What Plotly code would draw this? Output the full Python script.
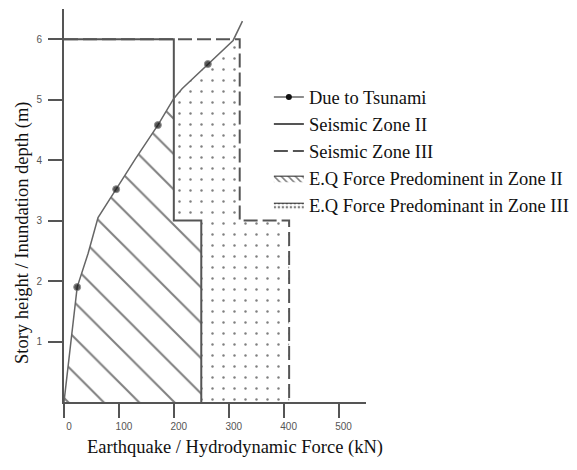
import numpy as np
import plotly.graph_objects as go

# ---- data ----
tsunami_force = [0, 12, 24, 44, 62, 95, 130, 171, 200, 215, 262, 308, 325]
tsunami_height = [0, 0.95, 1.9, 2.46, 3.05, 3.52, 4.02, 4.58, 5.02, 5.18, 5.59, 5.98, 6.3]
tsunami_marker_idx = [2, 5, 7, 10]

zone2_force = [0, 200, 200, 250, 250]
zone2_height = [6, 6, 3, 3, 0]

zone3_force = [0, 320, 320, 410, 410]
zone3_height = [6, 6, 3, 3, 0]

x_ticks = [0, 100, 200, 300, 400, 500]
y_ticks = [1, 2, 3, 4, 5, 6]

# ---- derived polygons ----
tf = np.array(tsunami_force, float)
th = np.array(tsunami_height, float)
x_step2 = zone2_force[1]            # upper Zone II step force
y_meet2 = float(np.interp(x_step2, tf, th))
top3 = zone3_height[0]
x_meet3 = float(np.interp(top3, th, tf))

# hatch region: between tsunami curve and Zone II line
mask = th <= y_meet2
hx = list(tf[mask]) + [zone2_force[2], zone2_force[3], zone2_force[4]]
hy = list(th[mask]) + [zone2_height[2], zone2_height[3], zone2_height[4]]

# dotted region: between Zone II (and curve) and Zone III line
mask2 = (th >= y_meet2) & (th <= top3)
dx = [zone2_force[4], zone2_force[3], zone2_force[2]] + list(tf[mask2]) + [x_meet3] + zone3_force[1:]
dy = [zone2_height[4], zone2_height[3], zone2_height[2]] + list(th[mask2]) + [top3] + zone3_height[1:]

msize = [7 if i in tsunami_marker_idx else 0 for i in range(len(tsunami_force))]

fig = go.Figure()

# filled regions (drawn first, behind the lines)
fig.add_trace(go.Scatter(
    x=hx, y=hy, mode="none", fill="toself", fillcolor="white", showlegend=False,
    fillpattern=dict(shape="\\", fgcolor="#000", bgcolor="white", size=25, solidity=0.08),
    hoverinfo="skip"))
fig.add_trace(go.Scatter(
    x=dx, y=dy, mode="none", fill="toself", fillcolor="white", showlegend=False,
    fillpattern=dict(shape=".", fgcolor="#000", bgcolor="white", size=11, solidity=0.04),
    hoverinfo="skip"))

fig.add_trace(go.Scatter(
    x=zone3_force, y=zone3_height, mode="lines", name="Seismic Zone III",
    line=dict(color="#555", width=2, dash="14px,5px"), legendrank=3))
fig.add_trace(go.Scatter(
    x=zone2_force, y=zone2_height, mode="lines", name="Seismic Zone II",
    line=dict(color="#555", width=2), legendrank=2))
fig.add_trace(go.Scatter(
    x=tsunami_force, y=tsunami_height, mode="lines+markers", name="Due to Tsunami",
    line=dict(color="#666", width=1.5),
    marker=dict(color="#111", size=msize), showlegend=False))

# legend entries
fig.add_trace(go.Scatter(
    x=[None], y=[None], mode="lines+markers", name="Due to Tsunami",
    line=dict(color="#666", width=1.5), marker=dict(color="#111", size=6), legendrank=1))
fig.add_trace(go.Scatter(
    x=[None], y=[None], mode="lines", fill="toself", name="E.Q Force Predominent in Zone II",
    line=dict(color="#222", width=1), fillcolor="white",
    fillpattern=dict(shape="\\", fgcolor="#000", bgcolor="white", size=5, solidity=0.3),
    legendrank=4))
fig.add_trace(go.Scatter(
    x=[None], y=[None], mode="lines", fill="toself", name="E.Q Force Predominant in Zone III",
    line=dict(color="#222", width=1), fillcolor="white",
    fillpattern=dict(shape=".", fgcolor="#000", bgcolor="white", size=4, solidity=0.3),
    legendrank=5))

axis_common = dict(showline=True, linecolor="#555", linewidth=2, ticks="outside",
                   ticklen=14, tickwidth=2, tickcolor="#555", showgrid=False, zeroline=False,
                   tickfont=dict(family="Liberation Sans", size=10, color="#555"))
fig.update_xaxes(range=[0, 550], tickvals=x_ticks, ticklabelshift=5, ticklabelstandoff=0,
                 **axis_common)
fig.update_yaxes(range=[0, 6.5], tickvals=y_ticks, ticklabelstandoff=4, **axis_common)

fig.update_layout(
    width=577, height=470,
    margin=dict(l=64, r=210.5, t=9, b=68, autoexpand=False),
    plot_bgcolor="white", paper_bgcolor="white",
    showlegend=True,
    legend=dict(xref="container", yref="container", x=0.466, y=0.833,
                xanchor="left", yanchor="top",
                font=dict(family="Liberation Serif", size=18.5, color="#111"),
                bgcolor="rgba(0,0,0,0)", tracegroupgap=0),
    annotations=[
        dict(text="Earthquake / Hydrodynamic Force (kN)", xref="paper", yref="paper",
             x=0.565, y=-0.117, showarrow=False, xanchor="center", yanchor="middle",
             font=dict(family="Liberation Serif", size=18.5, color="#111")),
        dict(text="Story height / Inundation depth (m)", xref="paper", yref="paper",
             x=-0.139, y=0.43, showarrow=False, textangle=-90, xanchor="center", yanchor="middle",
             font=dict(family="Liberation Serif", size=18.5, color="#111")),
    ],
)

fig.write_html("out.html")
